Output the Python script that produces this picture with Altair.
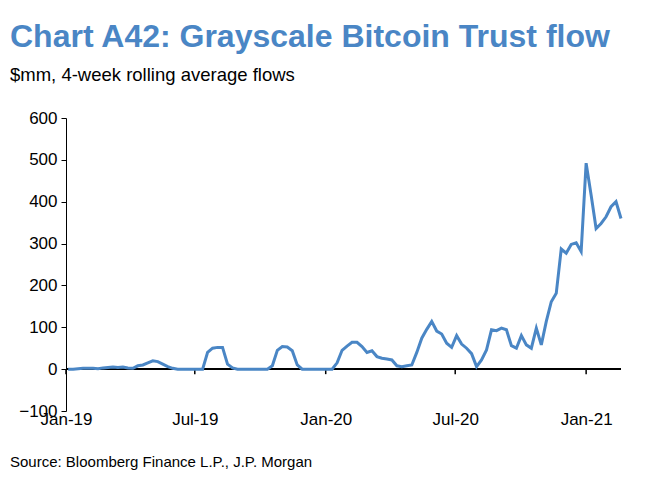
import altair as alt
import pandas as pd

flows = [
    0, 0, 1, 2, 2, 2, 1, 3, 4, 5, 4, 5, 3, 2, 8, 10, 15, 20, 18, 12,
    6, 2, 0, 0, 0, 0, 0, 0, 40, 50, 52, 52, 12, 3, 0, 0, 0, 0, 0, 0,
    0, 8, 45, 54, 53, 44, 10, 0, 0, 0, 0, 0, 0, 0, 15, 45, 55, 64, 64, 54,
    40, 44, 30, 26, 24, 22, 8, 6, 8, 10, 40, 74, 95, 114, 91, 84, 62, 52, 80, 60,
    50, 37, 6, 22, 46, 94, 92, 98, 94, 56, 50, 80, 58, 50, 98, 58, 114, 161, 181, 287,
    277, 298, 302, 281, 492, 416, 336, 348, 364, 388, 400, 360,
]
weeks = pd.date_range("2019-01-04", periods=len(flows), freq="7D")
tick_dates = ["2019-01-01", "2019-07-01", "2020-01-01", "2020-07-01", "2021-01-01"]

df = pd.DataFrame({"date": weeks, "flow": flows})
ticks = pd.DataFrame({"date": pd.to_datetime(tick_dates)})
note = pd.DataFrame({"text": ["Source: Bloomberg Finance L.P., J.P. Morgan"]})

x_scale = alt.Scale(domain=["2019-01-01", "2021-02-19"])
y_scale = alt.Scale(domain=[-100, 600], nice=False)

line = alt.Chart(df).mark_line(color="#4a86c5", strokeWidth=3).encode(
    x=alt.X("date:T", scale=x_scale, title=None,
            axis=alt.Axis(values=tick_dates, format="%b-%y", domain=False, ticks=False,
                          grid=False, labelFontSize=17, labelColor="black",
                          labelFont="Liberation Sans", labelPadding=0,
                          labelAlign="center", labelFlush=False)),
    y=alt.Y("flow:Q", scale=y_scale, title=None,
            axis=alt.Axis(values=list(range(-100, 601, 100)), grid=False,
                          domainColor="black", tickColor="black", tickSize=5,
                          labelFontSize=17, labelColor="black",
                          labelFont="Liberation Sans", labelPadding=4)),
)

zero = alt.Chart(df).mark_rule(color="black", strokeWidth=1.5).encode(y=alt.datum(0))

tick_marks = alt.Chart(ticks).mark_rule(color="black", strokeWidth=1.5).encode(
    x="date:T", y=alt.datum(0), y2=alt.datum(-12)
)

source = alt.Chart(note).mark_text(
    align="left", baseline="middle", fontSize=15, font="Liberation Sans", color="black"
).encode(x=alt.value(-56), y=alt.value(344), text="text:N")

chart = (
    alt.layer(zero, tick_marks, line, source)
    .properties(
        width=555, height=293,
        padding={"left": 2, "top": 12, "right": 5, "bottom": 5},
        title=alt.TitleParams(
            "Chart A42: Grayscale Bitcoin Trust flow",
            subtitle="$mm, 4-week rolling average flows",
            anchor="start", fontSize=32, font="Liberation Sans", fontWeight="bold",
            color="#4a86c5", subtitleFontSize=18.5, subtitleFont="Liberation Sans",
            subtitleColor="black", subtitlePadding=12, offset=24,
        ),
    )
    .configure_view(stroke=None)
)

chart.save("out.html", embed_options={"renderer": "svg", "actions": False})
